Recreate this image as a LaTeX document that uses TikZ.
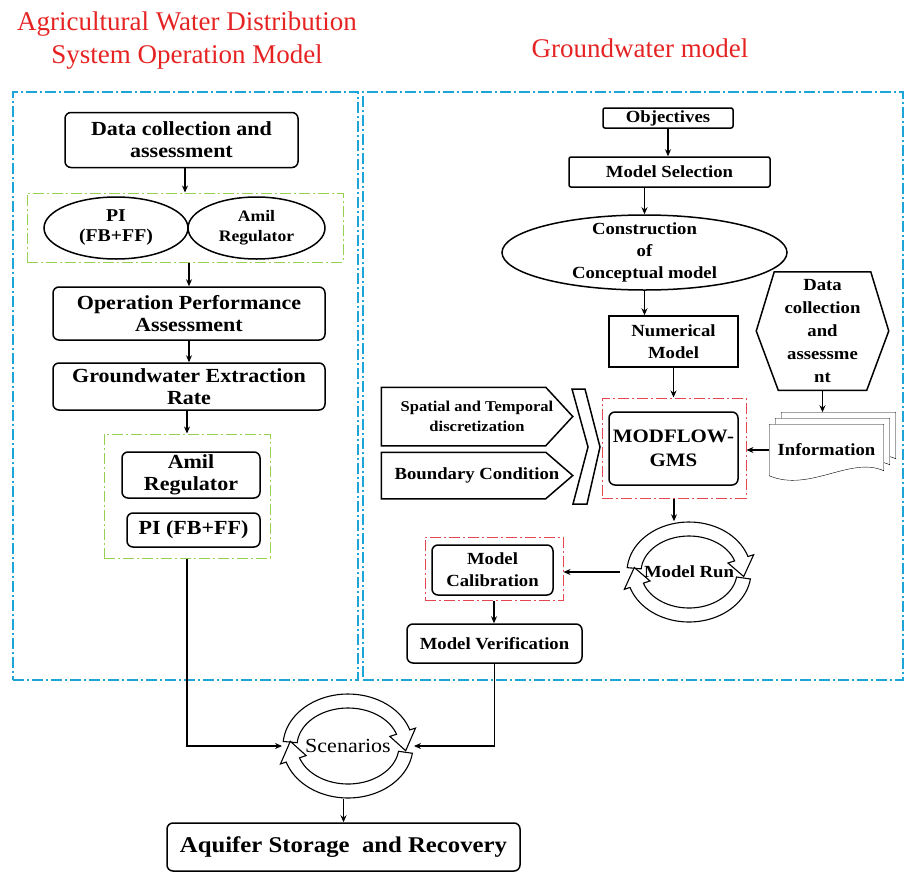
\documentclass[tikz,border=0pt]{standalone}
\usepackage{fontspec}
\setmainfont{Liberation Serif}[FakeStretch=1.1]
\newfontfamily\titlefont{Liberation Serif}
\usetikzlibrary{shapes.geometric,arrows.meta,calc,backgrounds}

\definecolor{frameblue}{RGB}{30,165,215}
\definecolor{framegreen}{RGB}{150,210,80}
\definecolor{framered}{RGB}{230,70,80}
\definecolor{titlered}{RGB}{230,35,35}

% half of a cycle symbol round the origin: radii a, b, from, to
\newcommand{\ringarrow}[4]{%
  \draw[fill=white, line width=1.1pt]
    plot[domain=#3:#4, samples=40] ({#1*cos(\x)}, {#2*sin(\x)})
    -- ({(#1+6)*cos(#4)}, {(#2+6)*sin(#4)})
    -- ({(#1-7)*cos(#4+24)}, {(#2-7)*sin(#4+24)})
    -- ({(#1-21)*cos(#4)}, {(#2-21)*sin(#4)})
    -- plot[domain=#4:#3, samples=40] ({(#1-14)*cos(\x)}, {(#2-14)*sin(\x)})
    -- cycle;}
\newcommand{\ringpair}[3]{%
  \begin{scope}[shift={(#1)}]
    \ringarrow{#2}{#3}{185}{342}
    \ringarrow{#2}{#3}{8}{162}
  \end{scope}}

\begin{document}
\begin{tikzpicture}[x=1pt, y=-1pt, line width=1.5pt,
    box/.style={draw, rounded corners=6pt, align=center, inner sep=2pt},
    sq/.style={draw, rounded corners=2pt, align=center, inner sep=2pt},
    lf/.style={font=\fontsize{20}{22}\selectfont\bfseries},
    rf/.style={font=\fontsize{17}{22}\selectfont\bfseries},
    link/.style={-{Stealth[length=7pt,width=6pt]}, line width=1.1pt},
    frame/.style={dash pattern=on 11pt off 3pt on 2pt off 3pt, line width=1.2pt}]
    \useasboundingbox (0,0) rectangle (905,873);

    % Titles
    \node[text=titlered, align=center, font=\titlefont\fontsize{27}{33}\selectfont] (tl) at (187,41) {Agricultural Water Distribution\\System Operation Model};
    \node[text=titlered, font=\titlefont\fontsize{27}{33}\selectfont] (tr) at (640,48) {Groundwater model};

    % Frames
    \node[frame, draw=frameblue, minimum width=345, minimum height=588] (fl) at (185.5,386) {};
    \node[frame, draw=frameblue, minimum width=540, minimum height=588] (fr) at (633,386) {};

    % Operation model
    \node[box, lf, minimum width=233, minimum height=55] (dc) at (181.5,140) {Data collection and\\assessment};
    \node[frame, draw=framegreen, line width=1pt, minimum width=316, minimum height=69] (g1) at (185,227.5) {};
    \node[draw, ellipse, inner sep=0, align=center, minimum width=144, minimum height=62, font=\fontsize{18}{20}\selectfont\bfseries] (pi) at (116,228) {PI\\(FB+FF)};
    \node[draw, ellipse, inner sep=0, align=center, minimum width=137, minimum height=62, font=\fontsize{16}{20}\selectfont\bfseries] (am) at (256.5,228) {Amil\\Regulator};
    \node[box, lf, minimum width=272, minimum height=53] (op) at (189,313.5) {Operation Performance\\Assessment};
    \node[box, lf, minimum width=272, minimum height=47] (gw) at (189,386.5) {Groundwater Extraction\\Rate};
    \node[frame, draw=framegreen, line width=1pt, minimum width=166, minimum height=124] (g2) at (187,496) {};
    \node[box, lf, minimum width=138, minimum height=46] (ar) at (191,475) {Amil\\Regulator};
    \node[box, lf, minimum width=133, minimum height=34] (pb) at (193.5,530) {PI (FB+FF)};
    \draw[link] (dc.south -| g1) -- (g1.north);
    \draw[link] (g1.south -| op) -- (op.north);
    \draw[link] (op.south) -- (gw.north);
    \draw[link] (gw.south -| g2) -- (g2.north);

    % Groundwater model
    \node[sq, rf, minimum width=130, minimum height=20, inner sep=1pt] (ob) at (668,118) {Objectives};
    \node[sq, rf, minimum width=201, minimum height=30] (ms) at (669.5,172) {Model Selection};
    \node[draw, ellipse, minimum width=285, minimum height=75, label={[rf, align=center]center:Construction\\of\\Conceptual model}] (co) at (644.5,252.5) {};
    \node[draw, rf, align=center, minimum width=129, minimum height=51, inner sep=1pt] (nm) at (673.5,341.5) {Numerical\\Model};
    \node[frame, draw=framered, line width=1pt, minimum width=144, minimum height=100] (r1) at (674,448) {};
    \node[box, minimum width=129, minimum height=73, font=\fontsize{19}{24}\selectfont\bfseries] (mf) at (673.5,448.5) {MODFLOW-\\GMS};
    \draw[link] (ob.south) -- (ob.south |- ms.north);
    \draw[link] (ms.south -| co) -- (co.north);
    \draw[link] (co.south) -- (co.south |- nm.north);
    \draw[link] (nm.south) -- (nm.south |- r1.north);

    % Data and information
    \node[align=center, minimum width=131, minimum height=117, inner sep=0, font=\fontsize{17}{23}\selectfont\bfseries] (hx) at (822.5,331) {Data\\collection\\and\\assessme\\nt};
    \draw (hx.west) -- ($(hx.north west)+(18,0)$) -- ($(hx.north east)+(-18,0)$) -- (hx.east)
        -- ($(hx.south east)+(-22,0)$) -- ($(hx.south west)+(22,0)$) -- cycle;
    \node[rf, minimum width=113, minimum height=50, inner sep=0] (in) at (826.5,450) {Information};
    \begin{scope}[on background layer]
        \foreach \d in {12,6,0}
            \draw[fill=white] ($(in.north west)+(\d,-\d)$) -- ($(in.north east)+(\d,-\d)$) -- ($(in.south east)+(\d,-5-\d)$)
                .. controls +(-33,-15) and +(40,17) .. ($(in.south west)+(\d,-\d)$) -- cycle;
    \end{scope}
    \coordinate (inb) at ($(in.north)+(0,-12)$);
    \draw[link] (hx.south) -- (hx.south |- inb);
    \draw[link] (in.west) -- (in.west -| r1.east);

    % Inputs
    \node[align=center, minimum width=190, minimum height=57, inner sep=0, font=\fontsize{15}{20}\selectfont\bfseries] (sp) at (477,416.5) {Spatial and Temporal\\discretization};
    \node[minimum width=190, minimum height=45, inner sep=0, font=\fontsize{17}{20}\selectfont\bfseries] (bc) at (477,475.5) {Boundary Condition};
    \foreach \n in {sp,bc}
        \draw (\n.north west) -- ($(\n.north east)+(-27,0)$) -- (\n.east) -- ($(\n.south east)+(-27,0)$) -- (\n.south west) -- cycle;
    \draw (572,389) -- (585,389) -- (600,447) -- (587,504) -- (573,504) -- (588,447) -- cycle;

    % Run and calibration
    \ringpair{689,572}{62}{50}
    \node[ellipse, minimum width=124, minimum height=100, rf] (mr) at (689,572) {Model Run};
    \node[frame, draw=framered, line width=1pt, minimum width=138, minimum height=63] (r2) at (494,568.5) {};
    \node[box, rf, minimum width=121, minimum height=50] (mc) at (492.5,570) {Model\\Calibration};
    \node[box, rf, minimum width=175, minimum height=39] (mv) at (494.5,643.5) {Model Verification};
    \draw[link] (r1.south) -- (r1.south |- mr.north);
    \draw[link] (mr.west) -- (mr.west -| r2.east);
    \draw[link] (r2.south) -- (r2.south |- mv.north);

    % Scenarios
    \ringpair{348,746}{65}{52}
    \node[ellipse, minimum width=130, minimum height=104, font=\fontsize{20}{22}\selectfont] (sc) at (348,746) {Scenarios};
    \node[box, minimum width=353, minimum height=48, font=\fontsize{22.5}{26}\selectfont\bfseries] (aq) at (343.5,847) {Aquifer Storage\ \ and Recovery};
    \draw[link] (g2.south) |- (sc.west);
    \draw[link] (mv.south) |- (sc.east);
    \draw[link] (sc.south -| aq) -- (aq.north);
\end{tikzpicture}
\end{document}
